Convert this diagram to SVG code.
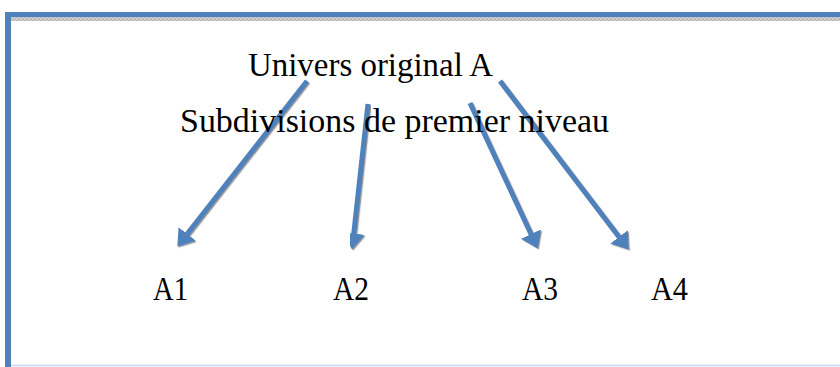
<svg xmlns="http://www.w3.org/2000/svg" width="840" height="367" viewBox="0 0 840 367">
<style>
.t{font-family:"Liberation Serif","DejaVu Serif",serif;font-size:33px;fill:#000}
.conn{stroke:#4f81bd;stroke-width:5;fill:none;marker-end:url(#ah);filter:url(#sh)}
</style>
<defs>
<marker id="ah" viewBox="0 0 16 22" refX="0.5" refY="11" markerWidth="16" markerHeight="22" markerUnits="userSpaceOnUse" orient="auto">
<path d="M0,0 L16,11 L0,22 z" fill="#4f81bd"/>
</marker>
<filter id="sh" x="-20%" y="-20%" width="140%" height="140%">
<feDropShadow dx="1.2" dy="1.2" stdDeviation="0.7" flood-color="#808080" flood-opacity="0.8"/>
</filter>
<pattern id="dots" width="4" height="4" patternUnits="userSpaceOnUse">
<rect width="4" height="4" fill="#d0d0d0"/>
<rect width="2" height="2" fill="#b8b8b8"/>
<rect x="2" y="2" width="2" height="2" fill="#b8b8b8"/>
</pattern>
</defs>
<rect width="840" height="367" fill="#fff"/>
<g id="frame">
<rect x="11" y="17" width="829" height="4" fill="url(#dots)"/>
<rect x="5" y="12" width="835" height="5" fill="#4f81bd"/>
<rect x="5" y="12" width="6" height="355" fill="#4f81bd"/>
<line x1="11" y1="365.5" x2="840" y2="365.5" stroke="#c6d9f1" stroke-width="1.5"/>
</g>
<g id="connectors">
<line class="conn" x1="307" y1="81" x2="186.9" y2="234.4"/>
<line class="conn" x1="368" y1="104" x2="353.7" y2="234.1"/>
<line class="conn" x1="470" y1="103" x2="531.2" y2="234.5"/>
<line class="conn" x1="500" y1="81" x2="619.3" y2="237.3"/>
</g>
<g id="root"><text class="t" x="248" y="76" textLength="245" lengthAdjust="spacingAndGlyphs">Univers original A</text></g>
<g id="level"><text class="t" x="180" y="131.5" textLength="429" lengthAdjust="spacingAndGlyphs">Subdivisions de premier niveau</text></g>
<g id="A1"><text class="t" x="153" y="300" textLength="35" lengthAdjust="spacingAndGlyphs">A1</text></g>
<g id="A2"><text class="t" x="333" y="300" textLength="36" lengthAdjust="spacingAndGlyphs">A2</text></g>
<g id="A3"><text class="t" x="522" y="300" textLength="36" lengthAdjust="spacingAndGlyphs">A3</text></g>
<g id="A4"><text class="t" x="651" y="300" textLength="37" lengthAdjust="spacingAndGlyphs">A4</text></g>
</svg>
